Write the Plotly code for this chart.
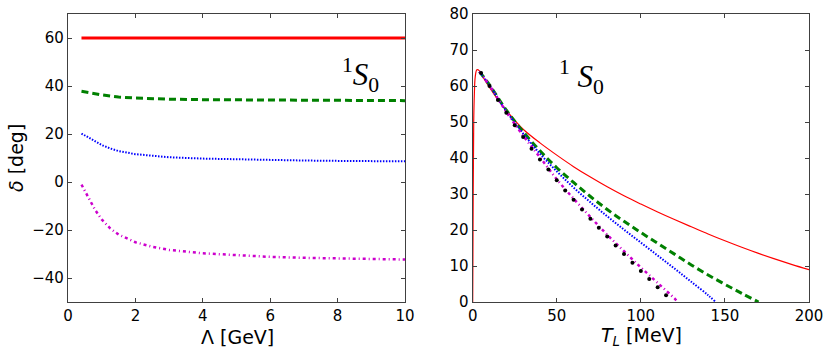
import plotly.graph_objects as go

# left panel: phase shift vs cutoff Lambda
lam = [0.4, 0.6, 0.8, 1.0, 1.25, 1.5, 2, 2.5, 3, 4, 5, 6, 7, 8, 9, 10]
lam_red = [60.0] * len(lam)
lam_green = [37.8, 37.2, 36.7, 36.3, 35.8, 35.4, 35.0, 34.7, 34.5, 34.3, 34.2, 34.1, 34.05, 34.0, 33.95, 33.9]
lam_blue = [20.2, 18.6, 16.9, 15.4, 14.0, 12.9, 11.6, 10.8, 10.3, 9.75, 9.4, 9.1, 8.95, 8.8, 8.7, 8.6]
lam_magenta = [-1.1, -6.2, -11.5, -15.6, -19.3, -21.9, -25.1, -27.0, -28.3, -29.7, -30.6, -31.2, -31.6, -31.9, -32.1, -32.3]

# right panel: phase shift vs lab energy
t_red = [0, 0.3, 0.6, 1, 1.5, 2.5, 4, 6, 10, 15, 20, 25, 30, 40, 50, 60, 70, 80, 90, 100,
         110, 120, 130, 140, 150, 160, 170, 180, 190, 200]
d_red = [0, 30, 50, 58, 62.5, 64.5, 64.2, 62.6, 59.6, 56.2, 53.2, 50.5, 48.0, 44.2, 40.8, 37.6, 34.7, 32.0, 29.5, 27.2,
         25.0, 22.9, 20.9, 18.9, 17.0, 15.2, 13.5, 11.9, 10.4, 9.0]

t_green = [4, 10, 20, 30, 40, 50, 60, 70, 80, 90, 100, 110, 120, 130, 140, 150, 160, 170]
d_green = [64.0, 60.3, 53.3, 47.3, 42.0, 37.3, 33.2, 29.3, 25.7, 22.4, 19.3, 16.3, 13.3, 10.3, 7.5, 4.9, 2.4, 0.0]

t_blue = [4, 10, 20, 30, 40, 50, 60, 70, 80, 90, 100, 110, 120, 130, 140, 144.5]
d_blue = [64.0, 60.2, 53.0, 46.8, 41.2, 36.3, 31.8, 27.7, 23.8, 20.1, 16.5, 12.9, 9.3, 5.6, 1.9, 0.0]

t_magenta = [4, 10, 20, 30, 40, 50, 60, 70, 80, 90, 100, 110, 120, 122]
d_magenta = [64.0, 60.1, 52.8, 46.2, 40.2, 34.1, 28.7, 23.6, 18.7, 14.1, 9.6, 5.3, 1.0, 0.0]

t_black = [5, 10, 15, 20, 25, 30, 35, 40, 45, 50, 55, 60, 65, 70, 75, 80, 85, 90, 95, 100, 105, 110, 115]
d_black = [63.6, 60.0, 56.1, 52.6, 49.1, 45.8, 42.6, 39.6, 36.8, 33.8, 31.0, 28.4, 25.7, 23.1, 20.6, 18.2,
           15.7, 13.3, 10.9, 8.6, 6.4, 4.1, 1.9]

fig = go.Figure()

# left panel
fig.add_trace(go.Scatter(x=lam, y=lam_red, mode="lines", line=dict(color="red", width=3),
                         xaxis="x", yaxis="y"))
fig.add_trace(go.Scatter(x=lam, y=lam_green, mode="lines", line=dict(color="green", width=3, dash="7px,4px"),
                         xaxis="x", yaxis="y"))
fig.add_trace(go.Scatter(x=lam, y=lam_blue, mode="lines", line=dict(color="blue", width=2, dash="1.5px,1.5px"),
                         xaxis="x", yaxis="y"))
fig.add_trace(go.Scatter(x=lam, y=lam_magenta, mode="lines",
                         line=dict(color="#cc00cc", width=2.5, dash="3px,3px,1px,3px"),
                         xaxis="x", yaxis="y"))

# right panel
fig.add_trace(go.Scatter(x=t_red, y=d_red, mode="lines", line=dict(color="red", width=1.2, shape="spline"),
                         xaxis="x2", yaxis="y2"))
fig.add_trace(go.Scatter(x=t_green, y=d_green, mode="lines",
                         line=dict(color="green", width=3, dash="7px,4px", shape="spline"),
                         xaxis="x2", yaxis="y2"))
fig.add_trace(go.Scatter(x=t_blue, y=d_blue, mode="lines",
                         line=dict(color="blue", width=2, dash="1.5px,1.5px", shape="spline"),
                         xaxis="x2", yaxis="y2"))
fig.add_trace(go.Scatter(x=t_magenta, y=d_magenta, mode="lines",
                         line=dict(color="#cc00cc", width=2.5, dash="3px,3px,1px,3px", shape="spline"),
                         xaxis="x2", yaxis="y2"))
fig.add_trace(go.Scatter(x=t_black, y=d_black, mode="markers", marker=dict(color="black", size=4),
                         xaxis="x2", yaxis="y2"))

axis_style = dict(showline=True, mirror="ticks", linecolor="#404040", linewidth=1.2,
                  ticks="inside", ticklen=4, tickcolor="#404040", showgrid=False, zeroline=False,
                  tickfont=dict(family="DejaVu Sans", size=15, color="black"))

label_font = dict(family="DejaVu Sans", size=19, color="black")
wave_font = dict(family="Liberation Serif", size=31, color="black")

fig.update_layout(
    width=831, height=351,
    template="none",
    showlegend=False,
    margin=dict(l=0, r=0, t=0, b=0),
    paper_bgcolor="white", plot_bgcolor="white",
    xaxis=dict(domain=[68 / 831, 405 / 831], range=[0, 10], dtick=2, anchor="y", **axis_style),
    yaxis=dict(domain=[49 / 351, 337 / 351], range=[-50, 70], dtick=20, tick0=0, anchor="x", **axis_style),
    xaxis2=dict(domain=[472.7 / 831, 809 / 831], range=[0, 200], dtick=50, anchor="y2", **axis_style),
    yaxis2=dict(domain=[49 / 351, 337 / 351], range=[0, 80], dtick=10, anchor="x2", **axis_style),
    annotations=[
        dict(text="<i>δ</i> [deg]", x=16 / 831, y=1 - 158 / 351, textangle=-90, font=label_font),
        dict(text="Λ [GeV]", x=237 / 831, y=1 - 337 / 351, font=label_font),
        dict(text="<i>T<sub>L</sub></i> [MeV]", x=641 / 831, y=1 - 336 / 351, font=label_font),
        dict(text="<sup>1</sup><i>S</i><sub>0</sub>", x=360 / 831, y=1 - 75 / 351, font=wave_font),
        dict(text="<sup>1</sup>\u00a0<i>S</i><sub>0</sub>", x=581 / 831, y=1 - 77 / 351, font=wave_font),
    ],
)
fig.update_annotations(xref="paper", yref="paper", xanchor="center", yanchor="middle", showarrow=False)

fig.write_html("out.html", config={"displayModeBar": False},
               post_script="document.body.style.margin='0';")
